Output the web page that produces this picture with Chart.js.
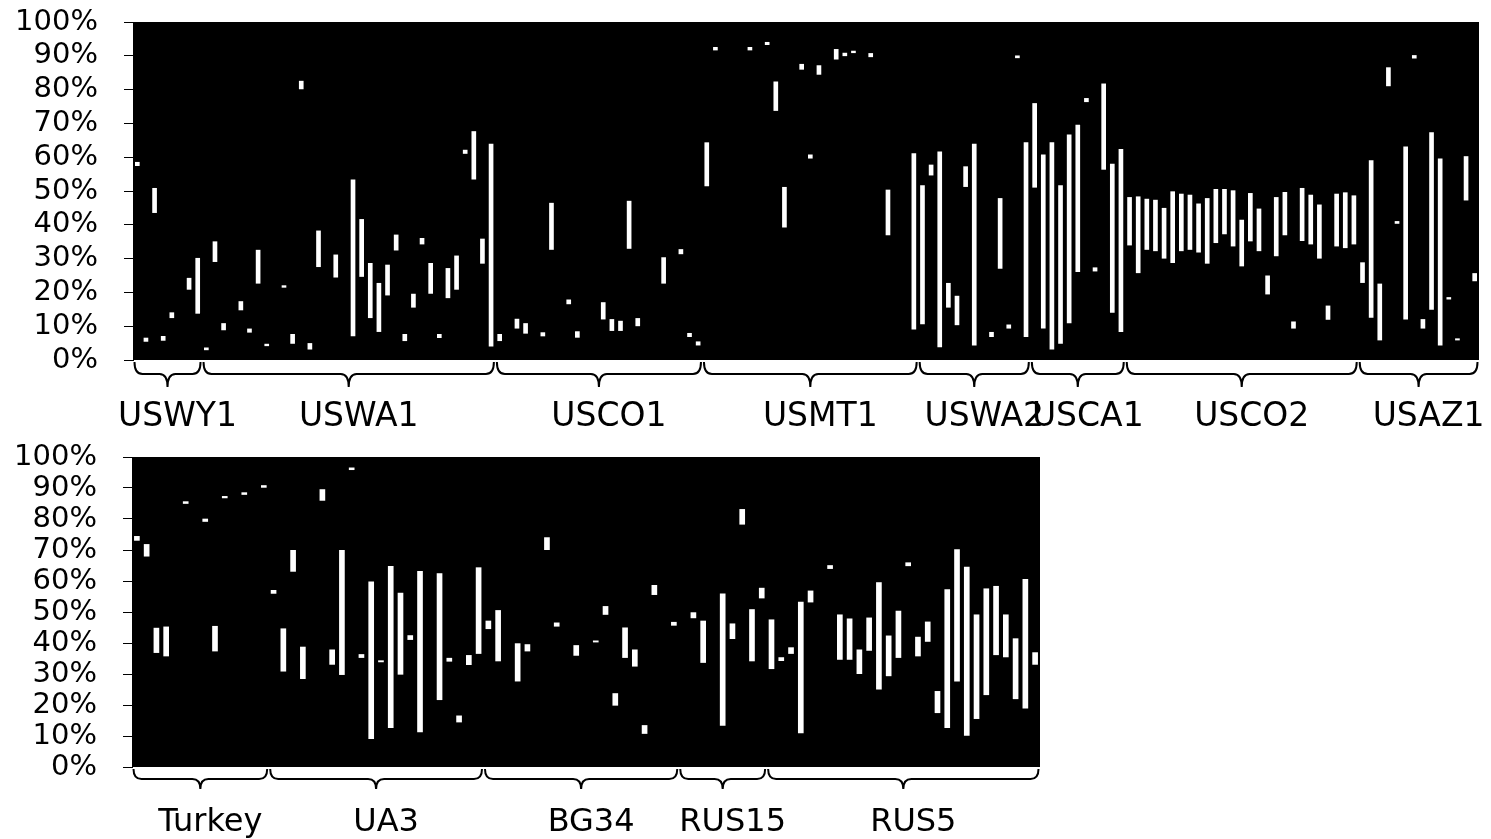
<!DOCTYPE html>
<html lang="en">
<head>
<meta charset="utf-8">
<title>Ranges by site</title>
<script src="https://cdn.jsdelivr.net/npm/chart.js@4.4.1/dist/chart.umd.min.js"></script>
<style>
    html, body { margin: 0; padding: 0; background: #fff; }
    #wrap { position: relative; width: 1491px; height: 839px; overflow: hidden; }
    canvas { position: absolute; left: 0; }
    #top { top: 0; }
    #bottom { top: 430px; }
</style>
</head>
<body>
<div id="wrap">
    <canvas id="top" width="1491" height="440"></canvas>
    <canvas id="bottom" width="1491" height="409"></canvas>
</div>

<script>
    // ---- top panel data ----
    var topSites = ["USWY1", "USWA1", "USCO1", "USMT1", "USWA2", "USCA1", "USCO2", "USAZ1"];
    var topSiteSamples = [8, 34, 24, 25, 13, 11, 27, 14];
    var topSample = [0, 1, 2, 3, 4, 6, 7, 8, 9, 10, 12, 13, 14, 15, 17, 18, 19, 20, 21, 23,
        25, 26, 27, 28, 29, 30, 31, 32, 33, 34, 35, 36, 37, 38, 39, 40, 41, 42, 44, 45,
        47, 48, 50, 51, 54, 55, 56, 57, 58, 61, 63, 64, 65, 66, 67, 71, 73, 74, 75, 77,
        78, 79, 81, 82, 83, 85, 87, 90, 91, 92, 93, 94, 95, 96, 97, 99, 100, 101, 102, 103,
        104, 105, 106, 107, 108, 109, 110, 111, 112, 113, 114, 115, 116, 117, 118, 119, 120, 121, 122, 123,
        124, 125, 126, 127, 128, 129, 130, 131, 132, 133, 134, 135, 136, 137, 138, 139, 140, 141, 142, 143,
        144, 145, 146, 147, 148, 149, 150, 151, 152, 153, 154, 155];
    var topLow = [57.5, 5.5, 43.6, 5.8, 12.5, 20.9, 13.8, 3.0, 29.1, 8.9, 14.8, 8.2, 22.7, 4.2, 21.5, 4.9, 80.2, 3.2, 27.6, 24.5,
        7.1, 24.7, 12.5, 8.4, 19.2, 32.5, 5.7, 15.6, 34.3, 19.7, 6.6, 18.4, 20.9, 61.1, 53.5, 28.6, 4.1, 5.7, 9.4, 7.9,
        7.1, 32.7, 16.6, 6.7, 12.1, 8.7, 8.7, 33.0, 10.1, 22.7, 31.4, 6.9, 4.4, 51.5, 91.7, 91.7, 93.3, 73.8, 39.3, 86.0,
        59.7, 84.5, 89.0, 90.0, 90.9, 89.7, 37.0, 9.1, 10.7, 54.7, 3.9, 15.6, 10.4, 51.3, 4.4, 6.9, 27.1, 9.4, 89.4, 6.9,
        51.1, 9.4, 3.2, 4.9, 11.0, 26.1, 76.4, 26.3, 56.4, 14.1, 8.4, 34.0, 25.8, 32.7, 32.3, 30.1, 28.8, 32.3, 32.7, 31.9,
        28.6, 34.7, 37.3, 33.7, 27.8, 35.2, 32.3, 19.5, 30.8, 37.0, 9.4, 35.3, 34.3, 30.1, 12.0, 33.7, 33.2, 34.3, 22.9, 12.6,
        5.9, 81.1, 40.4, 12.1, 89.3, 9.4, 15.0, 4.4, 18.0, 5.9, 47.3, 23.4];
    var topHigh = [58.5, 6.5, 50.8, 7.0, 14.0, 24.2, 30.1, 3.6, 35.0, 10.8, 17.3, 9.2, 32.5, 4.7, 22.0, 7.6, 82.5, 4.9, 38.2, 31.1,
        53.3, 41.6, 28.6, 22.7, 28.1, 37.0, 7.6, 19.5, 36.0, 28.6, 7.6, 27.1, 30.8, 62.1, 67.6, 35.8, 63.9, 7.6, 12.1, 10.8,
        8.1, 46.4, 17.8, 8.4, 17.0, 12.0, 11.5, 47.0, 12.3, 30.3, 32.7, 7.9, 5.4, 64.3, 92.5, 92.5, 94.0, 82.3, 51.1, 87.5,
        60.7, 87.1, 91.9, 90.8, 91.4, 90.7, 50.3, 61.1, 51.6, 57.7, 61.6, 22.7, 18.9, 57.2, 63.9, 8.2, 47.8, 10.4, 90.0, 64.3,
        75.9, 60.7, 64.3, 51.6, 66.6, 69.5, 77.4, 27.3, 81.7, 58.0, 62.3, 48.1, 48.3, 47.6, 47.3, 44.9, 49.8, 49.1, 48.8, 46.2,
        47.8, 50.5, 50.5, 50.1, 41.4, 49.3, 44.7, 24.9, 48.1, 49.6, 11.3, 50.8, 48.8, 45.9, 16.0, 49.1, 49.5, 48.6, 28.8, 59.0,
        22.5, 86.5, 41.0, 63.1, 90.1, 12.0, 67.3, 59.5, 18.5, 6.3, 60.2, 25.6];

    // ---- bottom panel data ----
    var bottomSites = ["Turkey", "UA3", "BG34", "RUS15", "RUS5"];
    var bottomSiteSamples = [14, 22, 20, 9, 28];
    var bottomSample = [0, 1, 2, 3, 5, 7, 8, 9, 11, 13, 14, 15, 16, 17, 19, 20, 21, 22, 23, 24,
        25, 26, 27, 28, 29, 31, 32, 33, 34, 35, 36, 37, 39, 40, 42, 43, 45, 47, 48, 49,
        50, 51, 52, 53, 55, 57, 58, 60, 61, 62, 63, 64, 65, 66, 67, 68, 69, 71, 72, 73,
        74, 75, 76, 77, 78, 79, 80, 81, 82, 83, 84, 85, 86, 87, 88, 89, 90, 91, 92];
    var bottomLow = [73.1, 68.0, 36.9, 35.8, 85.0, 79.2, 37.4, 86.8, 87.9, 90.2, 56.0, 30.9, 63.1, 28.5, 86.0, 33.1, 29.8, 95.9, 35.3, 9.1,
        33.9, 12.7, 29.9, 41.1, 11.3, 21.7, 34.1, 14.5, 33.0, 36.6, 44.6, 34.2, 27.7, 37.4, 70.1, 45.4, 36.0, 40.3, 49.2, 19.9,
        35.3, 32.5, 10.8, 55.6, 45.7, 48.1, 33.7, 13.4, 41.4, 78.3, 34.2, 54.5, 31.7, 34.3, 36.6, 11.0, 53.2, 64.0, 34.7, 34.7,
        30.1, 37.6, 25.1, 29.4, 35.3, 64.9, 35.8, 40.5, 17.5, 12.7, 27.7, 10.2, 15.6, 23.3, 36.2, 35.5, 22.0, 19.0, 33.1];
    var bottomHigh = [74.4, 71.8, 44.8, 45.2, 85.6, 80.0, 45.4, 87.3, 88.5, 90.8, 57.0, 44.6, 69.9, 38.7, 89.5, 37.8, 69.9, 96.5, 36.3, 59.7,
        34.3, 64.7, 56.1, 42.4, 63.1, 62.4, 35.1, 16.5, 36.0, 64.3, 47.1, 50.5, 39.8, 39.5, 74.0, 46.5, 39.2, 40.7, 51.8, 23.7,
        44.9, 37.8, 13.4, 58.6, 46.7, 49.8, 47.1, 55.9, 46.2, 83.1, 50.8, 57.7, 47.5, 35.3, 38.5, 53.2, 56.8, 65.0, 49.1, 47.8,
        37.8, 48.1, 59.5, 42.3, 50.3, 65.9, 41.9, 46.8, 24.4, 57.2, 70.1, 64.5, 49.1, 57.5, 58.3, 49.1, 41.4, 60.5, 36.9];

    var FONT = '"DejaVu Sans", Verdana, sans-serif';

    // black plot area behind the bars
    var plotBackground = {
        id: 'plotBackground',
        beforeDatasetsDraw: function(chart) {
            var a = chart.chartArea;
            chart.ctx.save();
            chart.ctx.fillStyle = '#000';
            chart.ctx.fillRect(a.left, a.top, a.right - a.left, a.bottom - a.top);
            chart.ctx.restore();
        }
    };

    // curly braces + site names under the plot
    var siteBraces = {
        id: 'siteBraces',
        afterDraw: function(chart, args, opts) {
            var ctx = chart.ctx, xs = chart.scales.x, base = chart.chartArea.bottom;
            var half = (xs.getPixelForValue(1) - xs.getPixelForValue(0)) / 2;
            var top = base + 2, mid = base + opts.mid, tip = base + opts.tip, r = 8;
            var start = 0;
            ctx.save();
            ctx.strokeStyle = '#000';
            ctx.lineWidth = 2;
            ctx.fillStyle = '#000';
            ctx.font = opts.fontSize + 'px ' + FONT;
            ctx.textAlign = 'center';
            ctx.textBaseline = 'alphabetic';
            opts.sizes.forEach(function(n, g) {
                var x0 = xs.getPixelForValue(start) - half + 1.5;
                var x1 = xs.getPixelForValue(start + n - 1) + half - 1.5;
                var cx = (x0 + x1) / 2;
                ctx.beginPath();
                ctx.moveTo(x0, top);
                ctx.quadraticCurveTo(x0, mid, x0 + r, mid);
                ctx.lineTo(cx - r, mid);
                ctx.quadraticCurveTo(cx, mid, cx, tip);
                ctx.quadraticCurveTo(cx, mid, cx + r, mid);
                ctx.lineTo(x1 - r, mid);
                ctx.quadraticCurveTo(x1, mid, x1, top);
                ctx.stroke();
                ctx.fillText(opts.names[g], cx + opts.labelShift, base + opts.labelDy);
                start += n;
            });
            ctx.restore();
        }
    };

    function buildData(sites, counts, idx, low, high) {
        var labels = [], values = [];
        sites.forEach(function(s, g) {
            for (var k = 0; k < counts[g]; k++) {
                labels.push(s);
                values.push(null);
            }
        });
        idx.forEach(function(i, k) {
            values[i] = [low[k], high[k]];
        });
        return { labels: labels, values: values };
    }

    function makeChart(canvasId, sites, counts, idx, low, high, cfg) {
        var d = buildData(sites, counts, idx, low, high);
        return new Chart(document.getElementById(canvasId).getContext('2d'), {
            type: 'bar',
            data: {
                labels: d.labels,
                datasets: [{
                    data: d.values,
                    backgroundColor: '#ffffff',
                    borderWidth: 0,
                    barThickness: cfg.barThickness
                }]
            },
            options: {
                responsive: false,
                animation: false,
                layout: { padding: cfg.padding },
                plugins: {
                    legend: { display: false },
                    tooltip: { enabled: false },
                    siteBraces: {
                        names: sites, sizes: counts, labelShift: 10,
                        labelDy: cfg.labelDy, fontSize: cfg.labelSize, mid: cfg.braceMid, tip: cfg.braceTip
                    }
                },
                scales: {
                    x: { type: 'category', display: false },
                    y: {
                        min: 0,
                        max: 100,
                        afterFit: function(s) {
                            s.width = cfg.axisWidth;
                            s.paddingTop = 0;
                            s.paddingBottom = 0;
                        },
                        ticks: {
                            stepSize: 10,
                            autoSkip: false,
                            padding: 26,
                            color: '#000',
                            font: { family: FONT, size: 29 },
                            callback: function(v) { return v + '%'; }
                        },
                        grid: { drawOnChartArea: false, drawTicks: true, tickLength: 9, color: '#000' },
                        border: { display: true, color: '#000' }
                    }
                }
            },
            plugins: [plotBackground, siteBraces]
        });
    }

    makeChart('top', topSites, topSiteSamples, topSample, topLow, topHigh, {
        padding: { top: 22, bottom: 80, left: 0, right: 12 },
        axisWidth: 133,
        barThickness: 4,
        labelDy: 66,
        labelSize: 33,
        braceMid: 14,
        braceTip: 27
    });

    makeChart('bottom', bottomSites, bottomSiteSamples, bottomSample, bottomLow, bottomHigh, {
        padding: { top: 27, bottom: 72, left: 0, right: 451 },
        axisWidth: 132,
        barThickness: 5,
        labelDy: 64,
        labelSize: 32,
        braceMid: 12,
        braceTip: 22
    });
</script>
</body>
</html>
